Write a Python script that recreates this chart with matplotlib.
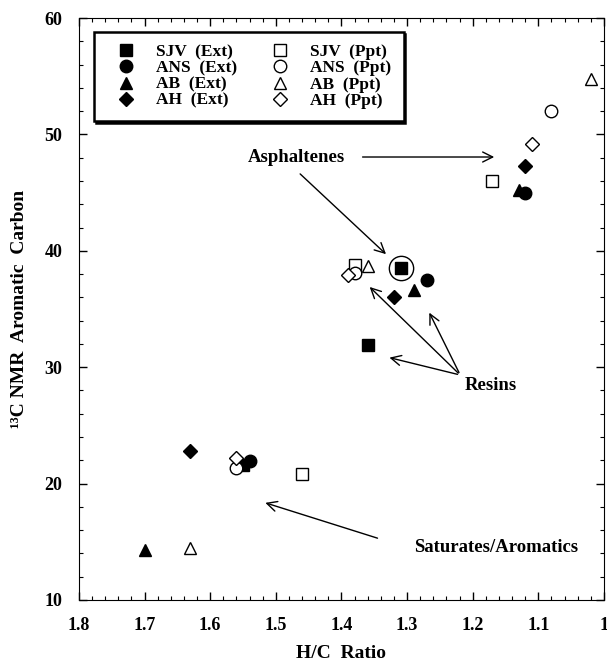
import matplotlib
matplotlib.use("Agg")
import matplotlib.pyplot as plt
from matplotlib.ticker import MultipleLocator, FuncFormatter

plt.rcParams['font.family'] = ['Liberation Serif', 'DejaVu Serif']

# Data (H/C ratio, 13C NMR aromatic carbon)
sjv_ext_x = [1.31, 1.36, 1.55]
sjv_ext_y = [38.5, 31.9, 21.6]
sjv_ppt_x = [1.38, 1.17, 1.46]
sjv_ppt_y = [38.8, 46.0, 20.8]
ans_ext_x = [1.12, 1.27, 1.54]
ans_ext_y = [45.0, 37.5, 21.9]
ans_ppt_x = [1.08, 1.38, 1.56]
ans_ppt_y = [52.0, 38.1, 21.3]
ab_ext_x = [1.13, 1.29, 1.70]
ab_ext_y = [45.2, 36.6, 14.3]
ab_ppt_x = [1.02, 1.36, 1.63]
ab_ppt_y = [54.8, 38.7, 14.5]
ah_ext_x = [1.12, 1.32, 1.63]
ah_ext_y = [47.3, 36.0, 22.8]
ah_ppt_x = [1.11, 1.39, 1.56]
ah_ppt_y = [49.2, 37.9, 22.2]

series = [
    ("SJV  (Ext)", sjv_ext_x, sjv_ext_y, 's', True),
    ("ANS  (Ext)", ans_ext_x, ans_ext_y, 'o', True),
    ("AB  (Ext)", ab_ext_x, ab_ext_y, '^', True),
    ("AH  (Ext)", ah_ext_x, ah_ext_y, 'D', True),
    ("SJV  (Ppt)", sjv_ppt_x, sjv_ppt_y, 's', False),
    ("ANS  (Ppt)", ans_ppt_x, ans_ppt_y, 'o', False),
    ("AB  (Ppt)", ab_ppt_x, ab_ppt_y, '^', False),
    ("AH  (Ppt)", ah_ppt_x, ah_ppt_y, 'D', False),
]
sizes = {'s': 8.5, 'o': 9, '^': 8.5, 'D': 7}

fig = plt.figure(figsize=(6.07, 6.68), dpi=100)
ax = fig.add_axes([0.130, 0.1018, 0.865, 0.8712])

for label, xs, ys, m, filled in series:
    ax.plot(xs, ys, linestyle='none', marker=m, markersize=sizes[m],
            markerfacecolor='black' if filled else 'white',
            markeredgecolor='black', markeredgewidth=1.0, label=label)

# circle around asphaltene SJV point
ax.plot([sjv_ext_x[0]], [sjv_ext_y[0]], linestyle='none', marker='o', markersize=17.5,
        markerfacecolor='none', markeredgecolor='black', markeredgewidth=1.0)

ax.set_xlim(1.8, 1.0)
ax.set_ylim(10, 60)
ax.xaxis.set_major_locator(MultipleLocator(0.1))
ax.xaxis.set_minor_locator(MultipleLocator(0.02))
ax.yaxis.set_major_locator(MultipleLocator(10))
ax.yaxis.set_minor_locator(MultipleLocator(2))
ax.xaxis.set_major_formatter(FuncFormatter(lambda v, p: '%g' % round(v, 2)))
ax.yaxis.set_major_formatter(FuncFormatter(lambda v, p: '%g' % round(v, 2)))
ax.tick_params(which='both', direction='in', top=True, right=True)
ax.tick_params(which='major', length=6, width=1)
ax.tick_params(which='minor', length=3, width=0.8)
ax.tick_params(axis='x', pad=12)
ax.tick_params(axis='y', pad=12)
for t in ax.get_xticklabels() + ax.get_yticklabels():
    t.set_fontweight('bold')
    t.set_fontsize(13)

ax.set_xlabel('H/C  Ratio', fontsize=14, fontweight='bold', labelpad=8)
ax.set_ylabel('\u00b9\u00b3C NMR  Aromatic  Carbon', fontsize=14, fontweight='bold', labelpad=12)

leg = ax.legend(ncol=2, loc='upper left', bbox_to_anchor=(0.0286, 0.976), borderaxespad=0,
                prop={'weight': 'bold', 'size': 12.5}, frameon=True, fancybox=False,
                edgecolor='black', handletextpad=0.6, columnspacing=1.3,
                labelspacing=0.0, borderpad=0.7, handlelength=2.3,
                shadow={'color': 'black', 'alpha': 1.0, 'ox': 1.2, 'oy': -1.2})
leg.get_frame().set_linewidth(1.8)

akw = dict(arrowstyle='->', color='black', lw=1.0, mutation_scale=18)
tkw = dict(fontsize=13.5, fontweight='bold', ha='center', va='center')

ax.text(1.469, 48.06, 'Asphaltenes', **tkw)
ax.annotate('', xy=(1.163, 48.06), xytext=(1.372, 48.06), arrowprops=akw)
ax.annotate('', xy=(1.329, 39.55), xytext=(1.466, 46.77), arrowprops=akw)

ax.text(1.172, 28.47, 'Resins', **tkw)
ax.annotate('', xy=(1.331, 30.88), xytext=(1.219, 29.33), arrowprops=akw)
ax.annotate('', xy=(1.360, 37.06), xytext=(1.219, 29.33), arrowprops=akw)
ax.annotate('', xy=(1.268, 34.9), xytext=(1.219, 29.33), arrowprops=akw)

ax.text(1.165, 14.47, 'Saturates/Aromatics', **tkw)
ax.annotate('', xy=(1.520, 18.42), xytext=(1.341, 15.24), arrowprops=akw)

fig.savefig('out.png', dpi=100)
